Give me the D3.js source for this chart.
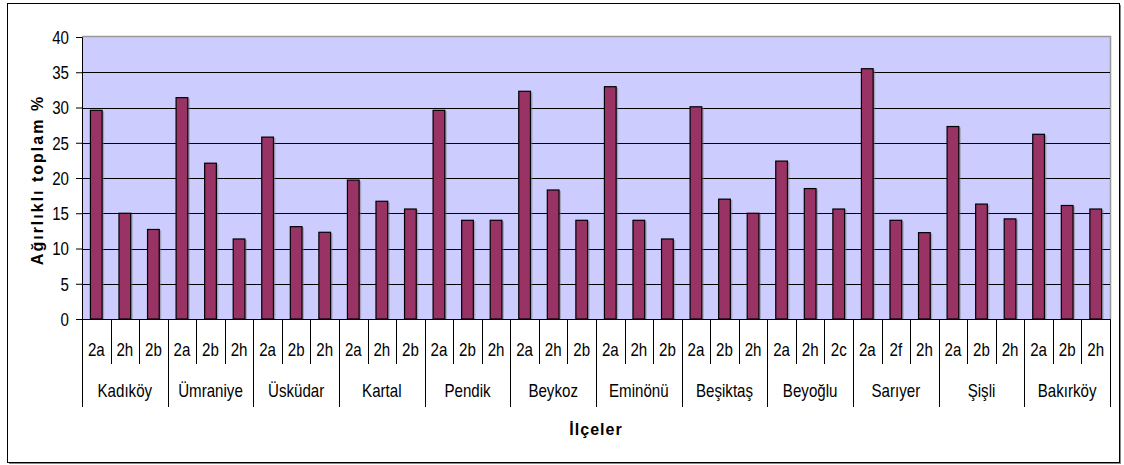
<!DOCTYPE html>
<html lang="tr">
<head>
<meta charset="UTF-8">
<title>Ağırlıklı toplam</title>
<script src="https://cdn.jsdelivr.net/npm/d3@7"></script>
<style>
  body { margin: 0; background: #fff; }
  svg { display: block; }
  .tick text, .lbl { font-family: "Liberation Sans", Arial, sans-serif; font-size: 18px; fill: #000; }
  .title { font-family: "Liberation Sans", Arial, sans-serif; font-weight: bold; font-size: 16px; fill: #000; }
</style>
</head>
<body>
<svg width="1124" height="465"></svg>
<script>
const districts = ['Kadıköy', 'Ümraniye', 'Üsküdar', 'Kartal', 'Pendik', 'Beykoz', 'Eminönü', 'Beşiktaş', 'Beyoğlu', 'Sarıyer', 'Şişli', 'Bakırköy'];
const subLabels = [
  ['2a', '2h', '2b'], ['2a', '2b', '2h'], ['2a', '2b', '2h'], ['2a', '2h', '2b'],
  ['2a', '2b', '2h'], ['2a', '2h', '2b'], ['2a', '2h', '2b'], ['2a', '2b', '2h'],
  ['2a', '2h', '2c'], ['2a', '2f', '2h'], ['2a', '2b', '2h'], ['2a', '2b', '2h']
];
const values = [
  [29.6, 15.0, 12.7], [31.4, 22.1, 11.35], [25.8, 13.1, 12.3], [19.7, 16.7, 15.6],
  [29.6, 14.0, 14.0], [32.3, 18.3, 14.0], [32.95, 14.0, 11.35], [30.1, 17.0, 15.0],
  [22.4, 18.5, 15.6], [35.5, 14.0, 12.25], [27.3, 16.3, 14.2], [26.2, 16.1, 15.6]
];
const yTicks = [0, 5, 10, 15, 20, 25, 30, 35, 40];

// flatten into one row per bar
const rows = [];
districts.forEach((d, i) => {
  subLabels[i].forEach((s, j) => {
    rows.push({ key: i + '-' + j, district: d, sub: s, value: values[i][j] });
  });
});

const svg = d3.select('svg');
const plotL = 82, plotR = 1110, plotT = 37, plotB = 319;
const squeeze = 0.84; // labels in the original are a narrow face

// chart frame
svg.append('rect').attr('x', 9).attr('y', 5).attr('width', 1112).attr('height', 459).attr('fill', '#888');
svg.append('rect').attr('x', 7.5).attr('y', 3.5).attr('width', 1112).attr('height', 459)
  .attr('fill', '#fff').attr('stroke', '#000').attr('stroke-width', 1);

const x = d3.scaleBand().domain(rows.map(r => r.key)).range([plotL, plotR])
  .paddingInner(0.59).paddingOuter(0.295);
const xCell = d3.scaleBand().domain(rows.map(r => r.key)).range([plotL, plotR]).padding(0);
const y = d3.scaleLinear().domain([0, 40]).range([plotB, plotT]);

// plot area
svg.append('rect').attr('x', plotL).attr('y', plotT).attr('width', plotR - plotL).attr('height', plotB - plotT)
  .attr('fill', '#ccccff');
svg.append('path')
  .attr('d', `M${plotL},${plotT - 0.5}H${plotR + 0.5}V${plotB}`)
  .attr('fill', 'none').attr('stroke', '#999').attr('stroke-width', 1.5);

// gridlines
svg.append('g').selectAll('line').data(yTicks.filter(t => t > 0 && t < 40)).join('line')
  .attr('x1', plotL).attr('x2', plotR)
  .attr('y1', d => Math.round(y(d)) + 0.5).attr('y2', d => Math.round(y(d)) + 0.5)
  .attr('stroke', '#000').attr('stroke-width', 1);

// bar shadows then bars
svg.append('g').selectAll('rect').data(rows).join('rect')
  .attr('x', d => x(d.key) + 2).attr('y', d => y(d.value) + 1)
  .attr('width', x.bandwidth()).attr('height', d => plotB - y(d.value) - 1)
  .attr('fill', '#777').attr('opacity', 0.5);
svg.append('g').selectAll('rect').data(rows).join('rect')
  .attr('x', d => x(d.key)).attr('y', d => y(d.value))
  .attr('width', x.bandwidth()).attr('height', d => plotB - y(d.value))
  .attr('fill', '#993366').attr('stroke', '#000').attr('stroke-width', 1.2);

// y axis
const yAxis = svg.append('g').attr('transform', `translate(${plotL},0)`)
  .call(d3.axisLeft(y).tickValues(yTicks).tickSize(6).tickPadding(7));
yAxis.select('.domain').attr('stroke', '#000');
yAxis.selectAll('.tick line').attr('stroke', '#000');
yAxis.selectAll('.tick text').attr('x', 0).attr('dy', '0.36em')
  .attr('transform', `translate(-13,0) scale(${squeeze},1)`);

// x axis line
svg.append('line').attr('x1', plotL).attr('x2', plotR).attr('y1', plotB + 0.5).attr('y2', plotB + 0.5)
  .attr('stroke', '#000');

// sub-category separators and labels
const subEdges = rows.map((r, i) => i).filter(i => i % 3 !== 0);
svg.append('g').selectAll('line').data(subEdges).join('line')
  .attr('x1', i => Math.round(xCell(rows[i].key)) + 0.5).attr('x2', i => Math.round(xCell(rows[i].key)) + 0.5)
  .attr('y1', plotB).attr('y2', 364).attr('stroke', '#000');
svg.append('g').selectAll('text').data(rows).join('text').attr('class', 'lbl')
  .attr('transform', d => `translate(${xCell(d.key) + xCell.bandwidth() / 2},350) scale(${squeeze},1)`)
  .attr('text-anchor', 'middle').attr('dy', '0.36em').text(d => d.sub);

// district separators and labels
const groupEdges = d3.range(districts.length + 1);
const edgeX = g => g < districts.length ? xCell(rows[g * 3].key) : plotR;
svg.append('g').selectAll('line').data(groupEdges).join('line')
  .attr('x1', g => Math.round(edgeX(g)) + 0.5).attr('x2', g => Math.round(edgeX(g)) + 0.5)
  .attr('y1', plotB).attr('y2', 407).attr('stroke', '#000');
svg.append('g').selectAll('text').data(districts).join('text').attr('class', 'lbl')
  .attr('transform', (d, i) => `translate(${(edgeX(i) + edgeX(i + 1)) / 2},391) scale(${squeeze},1)`)
  .attr('text-anchor', 'middle').attr('dy', '0.36em').text(d => d);

// titles
svg.append('text').attr('class', 'title')
  .attr('transform', 'translate(37,180) rotate(-90)')
  .attr('text-anchor', 'middle').attr('dy', '0.36em').attr('letter-spacing', '2px')
  .text('Ağırlıklı toplam %');
svg.append('text').attr('class', 'title')
  .attr('x', 596).attr('y', 429).attr('text-anchor', 'middle').attr('dy', '0.36em')
  .attr('letter-spacing', '1px')
  .text('İlçeler');
</script>
</body>
</html>
